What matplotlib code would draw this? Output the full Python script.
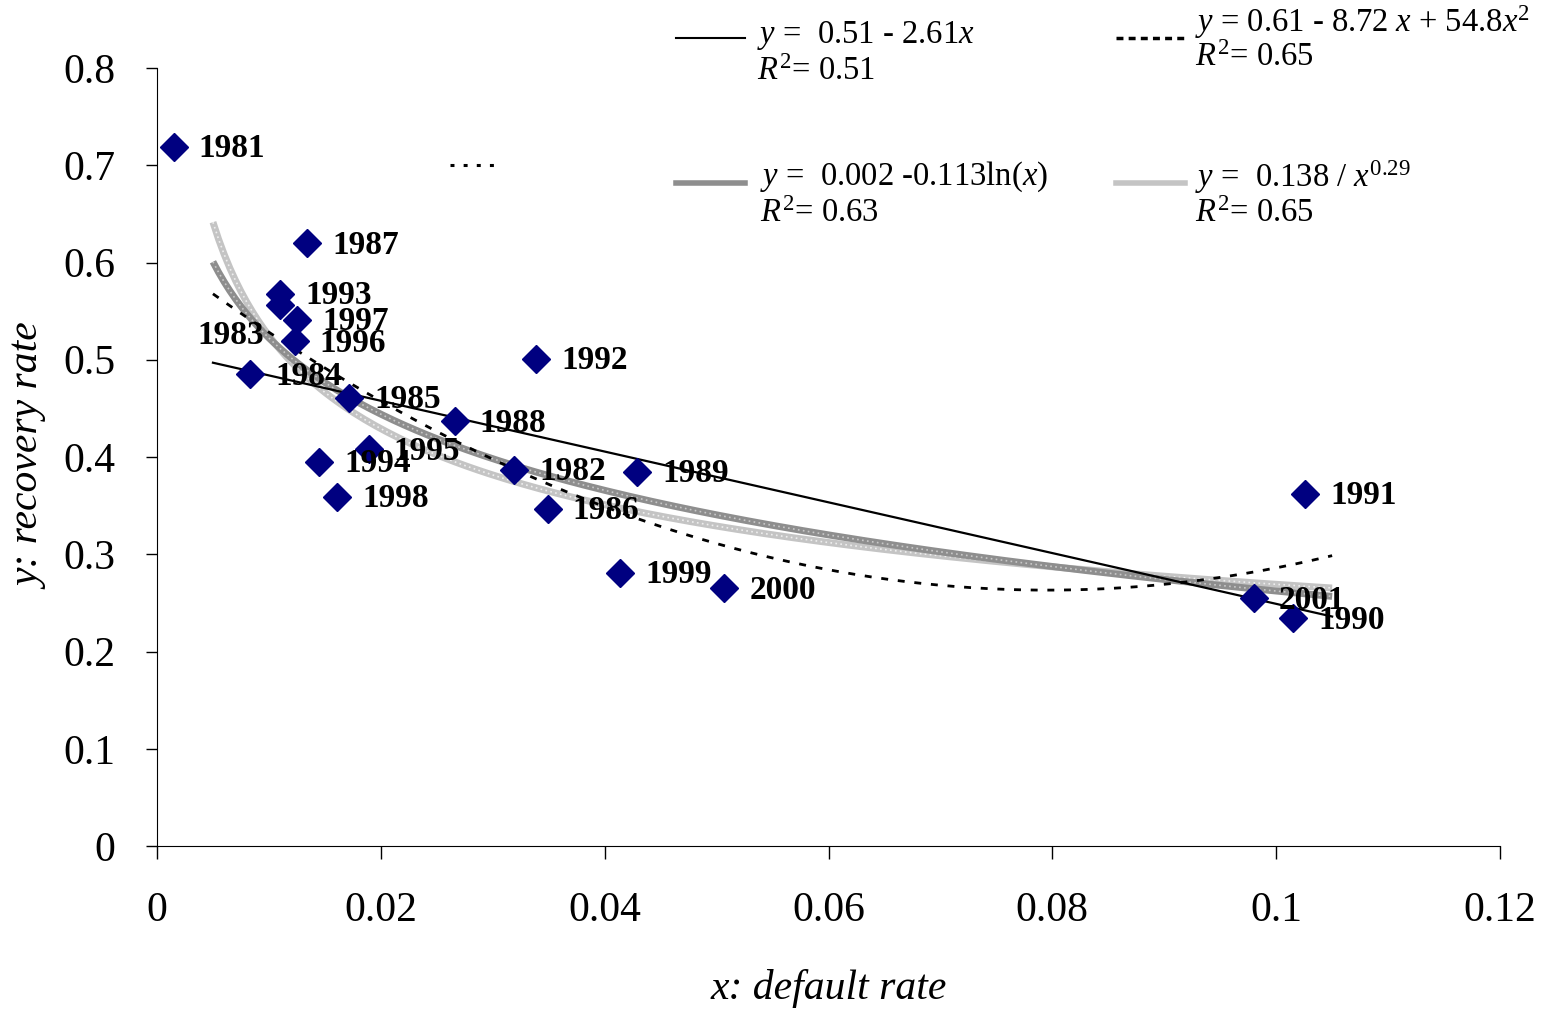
import numpy as np
import matplotlib
matplotlib.use('Agg')
import matplotlib.pyplot as plt
from matplotlib.lines import Line2D

plt.rcParams['font.family'] = ['Liberation Serif', 'DejaVu Serif']
plt.rcParams['mathtext.fontset'] = 'custom'
plt.rcParams['mathtext.rm'] = 'Liberation Serif'
plt.rcParams['mathtext.it'] = 'Liberation Serif:italic'

# data
years = [1981, 1982, 1983, 1984, 1985, 1986, 1987, 1988, 1989, 1990, 1991,
         1992, 1993, 1994, 1995, 1996, 1997, 1998, 1999, 2000, 2001]
default_rate = [0.0015, 0.0319, 0.0110, 0.0083, 0.0172, 0.0349, 0.0134, 0.0266,
                0.0429, 0.1015, 0.1026, 0.0339, 0.0110, 0.0145, 0.0189, 0.0123,
                0.0125, 0.0161, 0.0414, 0.0507, 0.0980]
recovery_rate = [0.719, 0.387, 0.556, 0.485, 0.461, 0.347, 0.620, 0.437,
                 0.385, 0.234, 0.362, 0.501, 0.568, 0.395, 0.408, 0.519,
                 0.541, 0.359, 0.281, 0.265, 0.255]

# trend line coefficients (from the legend)
lin_coef = [0.51, -2.61]
quad_coef = [0.61, -8.72, 54.8]
log_coef = [0.002, -0.113]
pow_coef = [0.138, -0.29]
trend_range = [0.005, 0.105]

# stray dotted segment left in the chart
stray_x = [0.0262, 0.0302]
stray_y = [0.700, 0.700]

xticks = [0, 0.02, 0.04, 0.06, 0.08, 0.1, 0.12]
xtick_labels = ['0', '0.02', '0.04', '0.06', '0.08', '0.1', '0.12']
yticks = [0, 0.1, 0.2, 0.3, 0.4, 0.5, 0.6, 0.7, 0.8]
ytick_labels = ['0', '0.1', '0.2', '0.3', '0.4', '0.5', '0.6', '0.7', '0.8']

fig = plt.figure(figsize=(15.5, 10.09), dpi=100)
ax = fig.add_axes([157 / 1550, 1 - 846 / 1009, (1500 - 157) / 1550, (846 - 68) / 1009])

xs = np.linspace(trend_range[0], trend_range[1], 200)
y_lin = lin_coef[0] + lin_coef[1] * xs
y_quad = quad_coef[0] + quad_coef[1] * xs + quad_coef[2] * xs ** 2
y_log = log_coef[0] + log_coef[1] * np.log(xs)
y_pow = pow_coef[0] * xs ** pow_coef[1]

# textured grey lines
ax.plot(xs, y_pow, color='#c4c4c4', lw=5, zorder=2, solid_capstyle='butt')
ax.plot(xs, y_pow, color='#eeeeee', lw=1.2, ls=(0, (1, 2)), zorder=2)
ax.plot(xs, y_log, color='#8e8e8e', lw=5, zorder=2, solid_capstyle='butt')
ax.plot(xs, y_log, color='#c8c8c8', lw=1.2, ls=(0, (1, 2)), zorder=2)
ax.plot(xs, y_quad, color='black', lw=2, ls=(0, (2.5, 3.5)), zorder=3)
ax.plot(xs, y_lin, color='black', lw=1.6, zorder=3)
ax.plot(stray_x, stray_y, color='black', lw=2.2, ls=(0, (1.3, 3)), zorder=3)

ax.plot(default_rate, recovery_rate, ls='none', marker='D', ms=14,
        color='#000080', zorder=4)

label_offsets = {1983: (-83, 30)}
for yr, xv, yv in zip(years, default_rate, recovery_rate):
    dx, dy = label_offsets.get(yr, (25, 2))
    ax.annotate(str(yr), (xv, yv), xytext=(dx * 0.72, -dy * 0.72),
                textcoords='offset points', ha='left', va='center',
                fontsize=24, fontweight='bold', zorder=5)

ax.set_xlim(0, 0.12)
ax.set_ylim(0, 0.8)
ax.set_xticks(xticks)
ax.set_xticklabels(xtick_labels)
ax.set_yticks(yticks)
ax.set_yticklabels(ytick_labels)
ax.spines['top'].set_visible(False)
ax.spines['right'].set_visible(False)
ax.tick_params(axis='y', direction='out', length=8, width=1, pad=22, labelsize=30)
ax.tick_params(axis='x', direction='out', length=9, width=1, pad=24, labelsize=30)
ax.set_xlabel('x: default rate', fontsize=30, style='italic', labelpad=28)
ax.set_ylabel('y: recovery rate', fontsize=30, style='italic', labelpad=10)

# legend built by hand
def fx(px):
    return px / 1550

def fy(py):
    return 1 - py / 1009

fig.add_artist(Line2D([fx(676), fx(745)], [fy(38), fy(38)], color='black', lw=1.5,
                      transform=fig.transFigure))
fig.add_artist(Line2D([fx(1116), fx(1185)], [fy(38), fy(38)], color='black', lw=2.5,
                      ls=(0, (2, 1.5)), transform=fig.transFigure))
fig.add_artist(Line2D([fx(676), fx(745)], [fy(183), fy(183)], color='#8e8e8e', lw=4,
                      transform=fig.transFigure))
fig.add_artist(Line2D([fx(1116), fx(1185)], [fy(183), fy(183)], color='#c4c4c4', lw=4,
                      transform=fig.transFigure))

leg_fs = 23.5
fig.text(fx(757), fy(35), r'$y$ =  0.51 - 2.61$x$', fontsize=leg_fs, va='center')
fig.text(fx(757), fy(72), r'$R^{2}$= 0.51', fontsize=leg_fs, va='center')
fig.text(fx(1195), fy(22), r'$y$ = 0.61 - 8.72 $x$ + $\mathit{54.8x}^{2}$', fontsize=leg_fs, va='center')
fig.text(fx(1195), fy(58), r'$R^{2}$= 0.65', fontsize=leg_fs, va='center')
fig.text(fx(760), fy(177), r'$y$ =  0.002 -0.113ln($x$)', fontsize=leg_fs, va='center')
fig.text(fx(760), fy(214), r'$R^{2}$= 0.63', fontsize=leg_fs, va='center')
fig.text(fx(1195), fy(177), r'$y$ =  0.138 / $x^{0.29}$', fontsize=leg_fs, va='center')
fig.text(fx(1195), fy(214), r'$R^{2}$= 0.65', fontsize=leg_fs, va='center')

fig.savefig('out.png', dpi=100)
